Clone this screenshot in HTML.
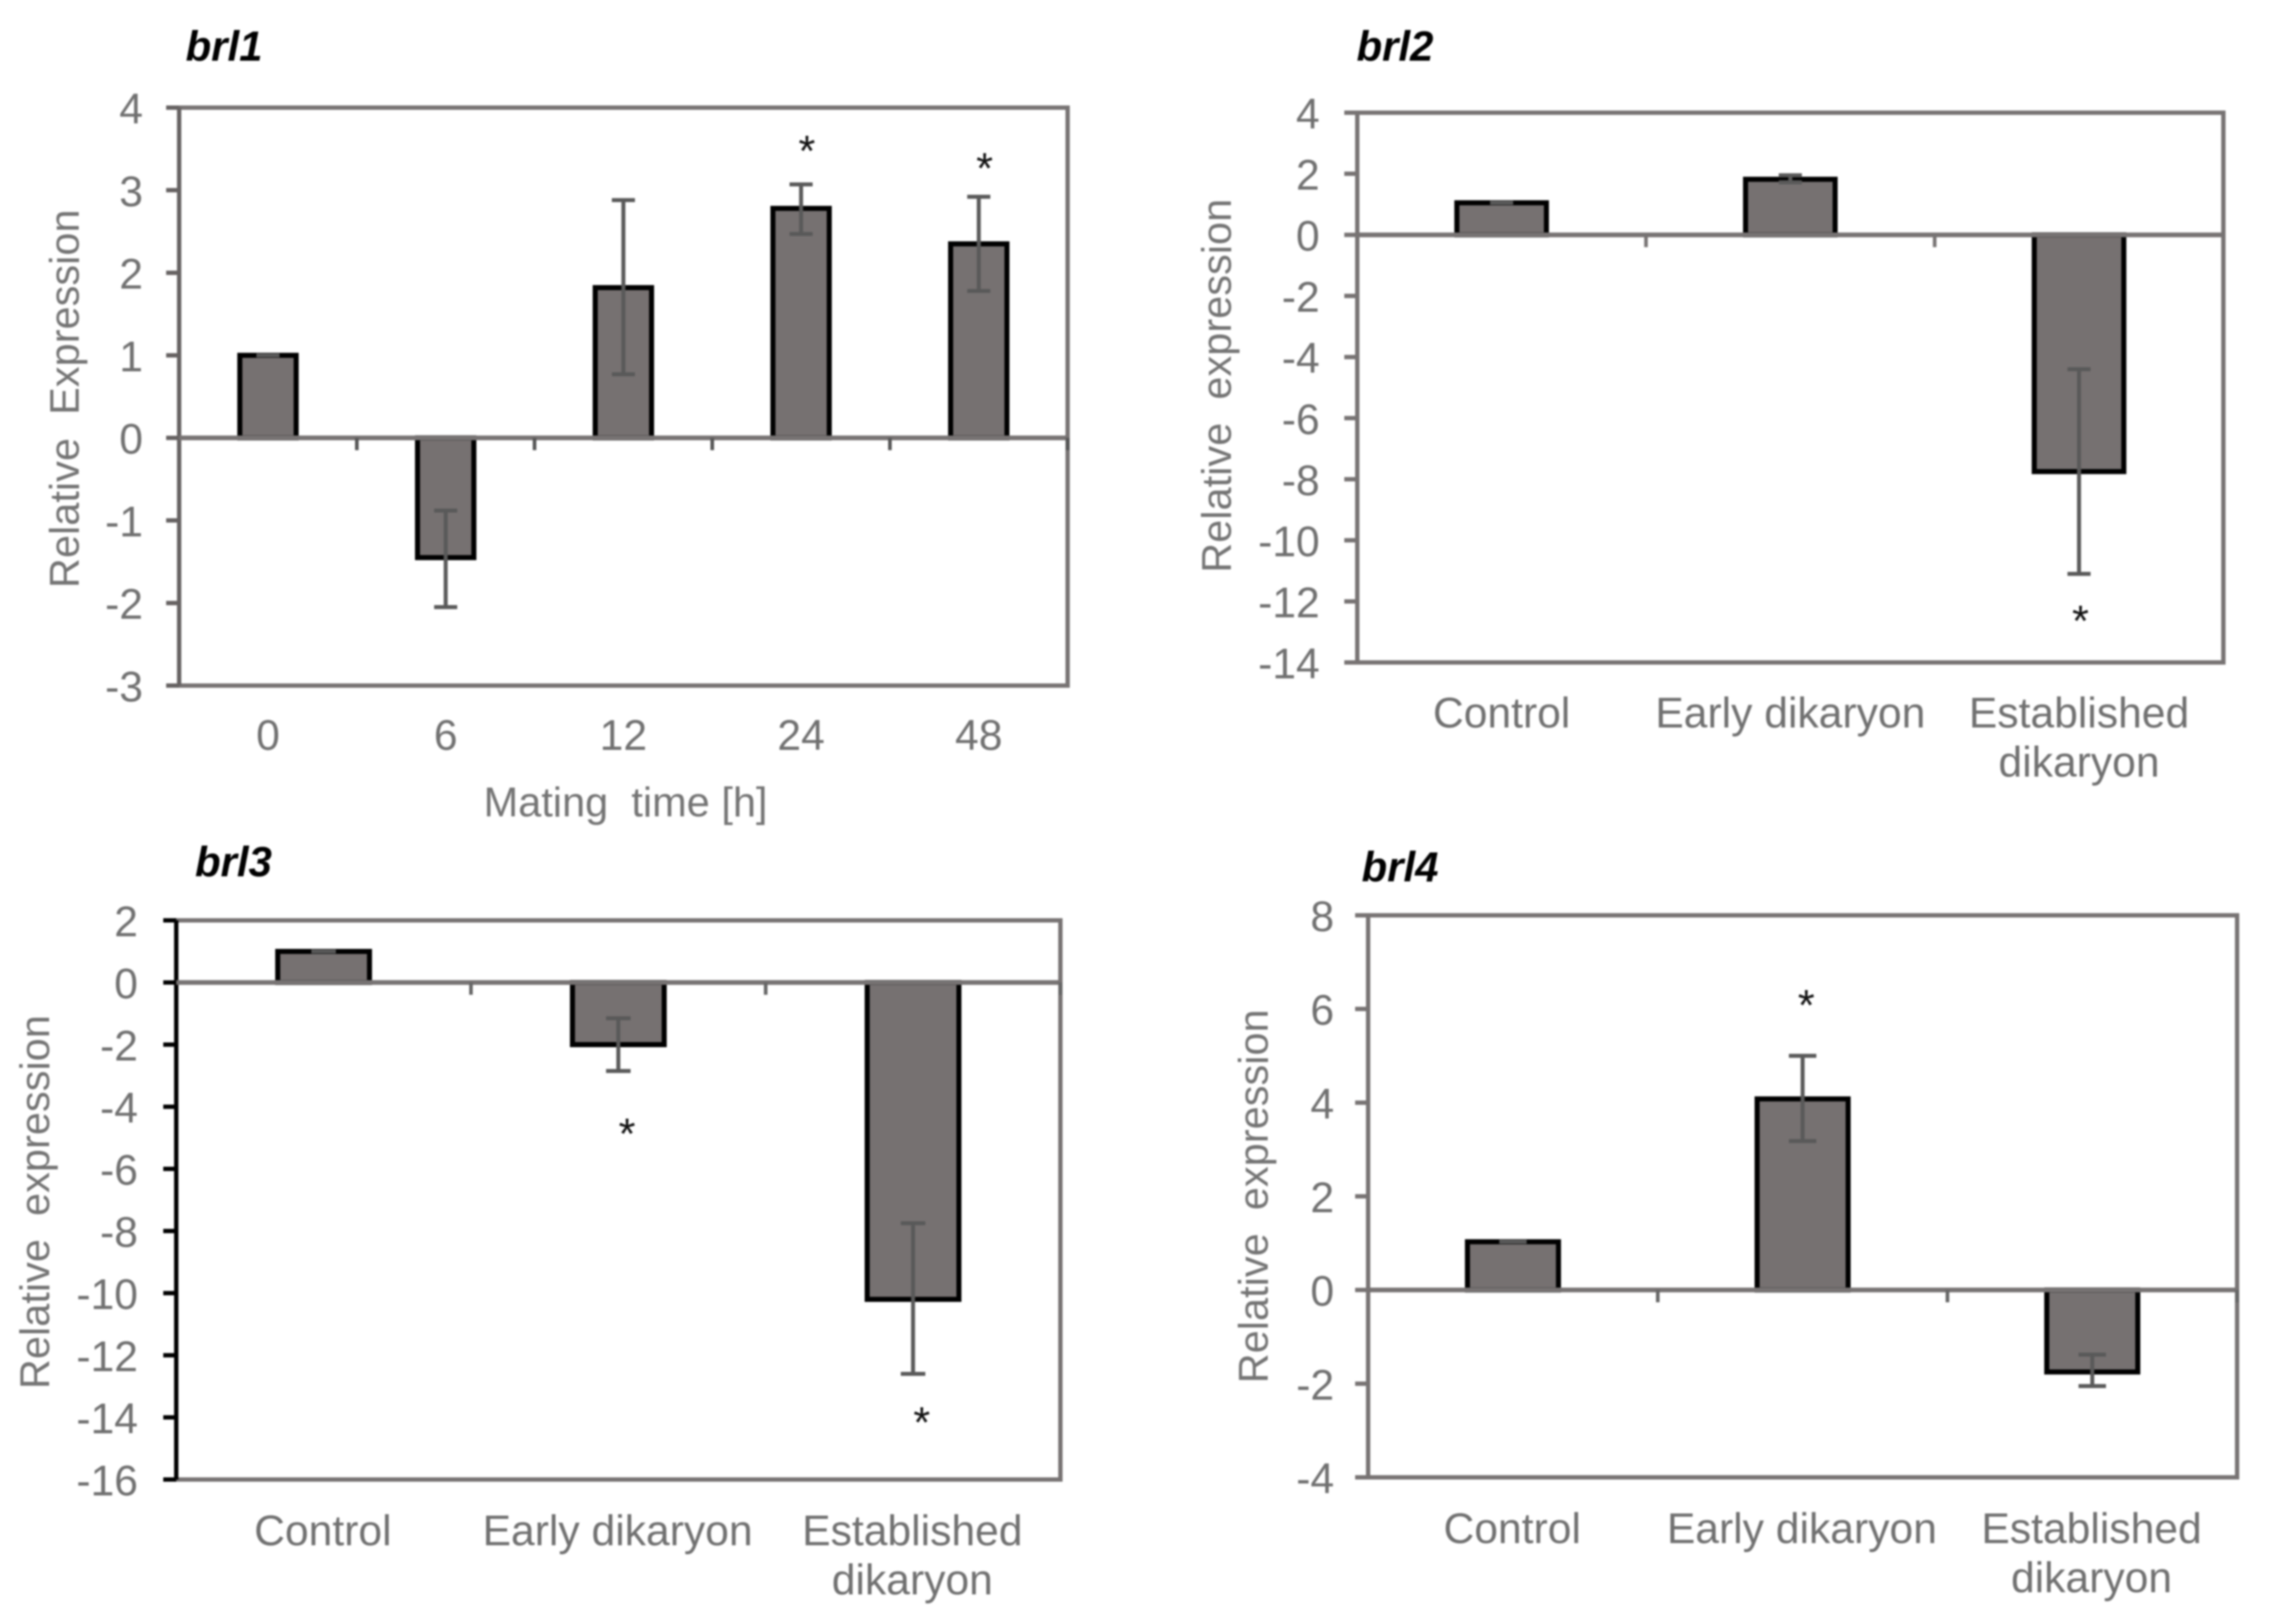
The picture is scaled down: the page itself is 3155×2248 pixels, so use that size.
<!DOCTYPE html>
<html lang="en">
<head>
<meta charset="utf-8">
<title>brl relative expression charts</title>
<style>
html,body{margin:0;padding:0;background:#fff;width:3155px;height:2248px;overflow:hidden}
svg{display:block;filter:blur(1.2px)}
text{font-family:"Liberation Sans",Arial,sans-serif}
.tick{font-size:59px;fill:#707070}
.axt{font-size:57.5px;fill:#747474;text-anchor:middle}
.ttl{font-size:58px;font-weight:bold;font-style:italic;fill:#000}
</style>
</head>
<body>
<svg id="figure" xmlns="http://www.w3.org/2000/svg" width="3155" height="2248" viewBox="0 0 3155 2248">
  <rect x="0" y="0" width="3155" height="2248" fill="#fff"/>
  <g id="brl1">
    <text class="ttl" x="257" y="84">brl1</text>
    <text class="axt" transform="translate(109 552) rotate(-90)">Relative&#160;&#160;Expression</text>
    <text class="axt" x="866" y="1130">Mating&#160;&#160;time [h]</text>
  </g>
  <g id="brl2">
    <text class="ttl" x="1878" y="84">brl2</text>
    <text class="axt" transform="translate(1704 534) rotate(-90)">Relative&#160;&#160;expression</text>
  </g>
  <g id="brl3">
    <text class="ttl" x="270" y="1213">brl3</text>
    <text class="axt" transform="translate(68 1664) rotate(-90)">Relative&#160;&#160;expression</text>
  </g>
  <g id="brl4">
    <text class="ttl" x="1885" y="1220">brl4</text>
    <text class="axt" transform="translate(1755 1656) rotate(-90)">Relative&#160;&#160;expression</text>
  </g>
</svg>
<script>
// brl1 data
var brl1Categories = ['0', '6', '12', '24', '48'];
var brl1Means = [1, -1.45, 1.82, 2.78, 2.35];
var brl1ErrHigh = [1, -0.88, 2.88, 3.07, 2.92];
var brl1ErrLow = [1, -2.05, 0.77, 2.47, 1.78];
var brl1Stars = [null, null, null, 3.6, 3.39];
var brl1Ticks = [4, 3, 2, 1, 0, -1, -2, -3];
// brl2 data
var brl2Categories = ['Control', 'Early dikaryon', 'Established\ndikaryon'];
var brl2Means = [1.05, 1.82, -7.75];
var brl2ErrHigh = [1.05, 1.95, -4.4];
var brl2ErrLow = [1.05, 1.72, -11.1];
var brl2Stars = [null, null, -12.3];
var brl2Ticks = [4, 2, 0, -2, -4, -6, -8, -10, -12, -14];
// brl3 data
var brl3Categories = ['Control', 'Early dikaryon', 'Established\ndikaryon'];
var brl3Means = [1, -2.0, -10.2];
var brl3ErrHigh = [1, -1.15, -7.75];
var brl3ErrLow = [1, -2.85, -12.6];
var brl3Stars = [null, -4.53, -13.83];
var brl3Ticks = [2, 0, -2, -4, -6, -8, -10, -12, -14, -16];
// brl4 data
var brl4Categories = ['Control', 'Early dikaryon', 'Established\ndikaryon'];
var brl4Means = [1.03, 4.08, -1.75];
var brl4ErrHigh = [1.03, 5.0, -1.38];
var brl4ErrLow = [1.03, 3.18, -2.05];
var brl4Stars = [null, 6.3, null];
var brl4Ticks = [8, 6, 4, 2, 0, -2, -4];

var NS = 'http://www.w3.org/2000/svg';
function make(parent, tag, attrs, text) {
  var el = document.createElementNS(NS, tag);
  for (var k in attrs) el.setAttribute(k, attrs[k]);
  if (text !== undefined) el.textContent = text;
  parent.appendChild(el);
  return el;
}

function drawChart(c) {
  var g = document.getElementById(c.id);
  var top = c.ticks[0], bot = c.ticks[c.ticks.length - 1];
  function yScale(v) { return c.top + (top - v) * (c.bottom - c.top) / (top - bot); }
  var slot = (c.right - c.left) / c.categories.length;
  function xScale(i) { return c.left + slot * (i + 0.5); }
  var el, i;
  var gray = '#777373';

  // frame
  el = make(g, 'rect', {x: c.left, y: c.top, width: c.right - c.left, height: c.bottom - c.top, fill: 'none', stroke: gray, 'stroke-width': 6});
  
  

  // y axis line
  el = make(g, 'line', {x1: c.left, x2: c.left, y1: c.top, y2: c.bottom, stroke: c.axisColor, 'stroke-width': 6});
  
  

  // y ticks + labels
  c.ticks.forEach(function (t) {
    var tm = make(g, 'line', {x1: c.left - 18, x2: c.left, y1: yScale(t), y2: yScale(t), stroke: c.axisColor, 'stroke-width': 6});
    
    
    var tl = make(g, 'text', {'class': 'tick', x: c.tickAnchor, y: yScale(t) + 22, 'text-anchor': 'end'}, String(t));
    
    
  });

  // bars
  c.means.forEach(function (v, idx) {
    var y0 = yScale(0), y1 = yScale(v);
    var b = make(g, 'rect', {x: xScale(idx) - c.barWidth / 2, y: Math.min(y0, y1), width: c.barWidth, height: Math.abs(y1 - y0), fill: '#767171', stroke: '#000', 'stroke-width': 7});
    
    
  });

  // zero line + category ticks
  el = make(g, 'line', {x1: c.left, x2: c.right, y1: yScale(0), y2: yScale(0), stroke: gray, 'stroke-width': 6.5});
  
  
  for (i = 1; i <= c.categories.length; i++) {
    var xt = c.left + slot * i;
    var ct = make(g, 'line', {x1: xt, x2: xt, y1: yScale(0), y2: yScale(0) + 17, stroke: c.catTickColor, 'stroke-width': 5});
    
    
  }

  // error bars
  c.errHigh.forEach(function (hi, idx) {
    var lo = c.errLow[idx], x = xScale(idx), capW = c.capWidth / 2;
    var er = make(g, 'path', {d: 'M' + (x - capW) + ' ' + yScale(hi) + 'H' + (x + capW) + 'M' + x + ' ' + yScale(hi) + 'V' + yScale(lo) + 'M' + (x - capW) + ' ' + yScale(lo) + 'H' + (x + capW), fill: 'none', stroke: '#595959', 'stroke-width': 5.5});
    
    
  });

  // significance stars
  c.stars.forEach(function (s, idx) {
    if (s === null) return;
    var st = make(g, 'text', {x: xScale(idx) + c.starOffset, y: yScale(s) + 35, 'text-anchor': 'middle', 'font-size': 60, fill: '#111'}, '*');
    
    
  });

  // category labels
  c.categories.forEach(function (cat, idx) {
    cat.split('\n').forEach(function (line, n) {
      var cl = make(g, 'text', {'class': 'tick', x: xScale(idx) + c.labelOffset, y: c.labelY + n * 68, 'text-anchor': 'middle'}, line);
      
      
    });
  });
}

drawChart({id: 'brl1', categories: brl1Categories, means: brl1Means, errHigh: brl1ErrHigh, errLow: brl1ErrLow, stars: brl1Stars, ticks: brl1Ticks,
  left: 248, right: 1478, top: 149, bottom: 949, barWidth: 78, capWidth: 32, tickAnchor: 198, labelY: 1038, labelOffset: 0, starOffset: 8, axisColor: '#666262', catTickColor: '#555'});
drawChart({id: 'brl2', categories: brl2Categories, means: brl2Means, errHigh: brl2ErrHigh, errLow: brl2ErrLow, stars: brl2Stars, ticks: brl2Ticks,
  left: 1879, right: 3078, top: 156, bottom: 917, barWidth: 124, capWidth: 32, tickAnchor: 1827, labelY: 1007, labelOffset: 0, starOffset: 2, axisColor: '#777373', catTickColor: '#777373'});
drawChart({id: 'brl3', categories: brl3Categories, means: brl3Means, errHigh: brl3ErrHigh, errLow: brl3ErrLow, stars: brl3Stars, ticks: brl3Ticks,
  left: 244, right: 1468, top: 1274, bottom: 2048, barWidth: 127, capWidth: 34, tickAnchor: 191, labelY: 2139, labelOffset: -1, starOffset: 12, axisColor: '#000', catTickColor: '#666'});
drawChart({id: 'brl4', categories: brl4Categories, means: brl4Means, errHigh: brl4ErrHigh, errLow: brl4ErrLow, stars: brl4Stars, ticks: brl4Ticks,
  left: 1894, right: 3097, top: 1267, bottom: 2045, barWidth: 126, capWidth: 38, tickAnchor: 1847, labelY: 2136, labelOffset: -1, starOffset: 5, axisColor: '#777373', catTickColor: '#666'});
</script>
</body>
</html>
